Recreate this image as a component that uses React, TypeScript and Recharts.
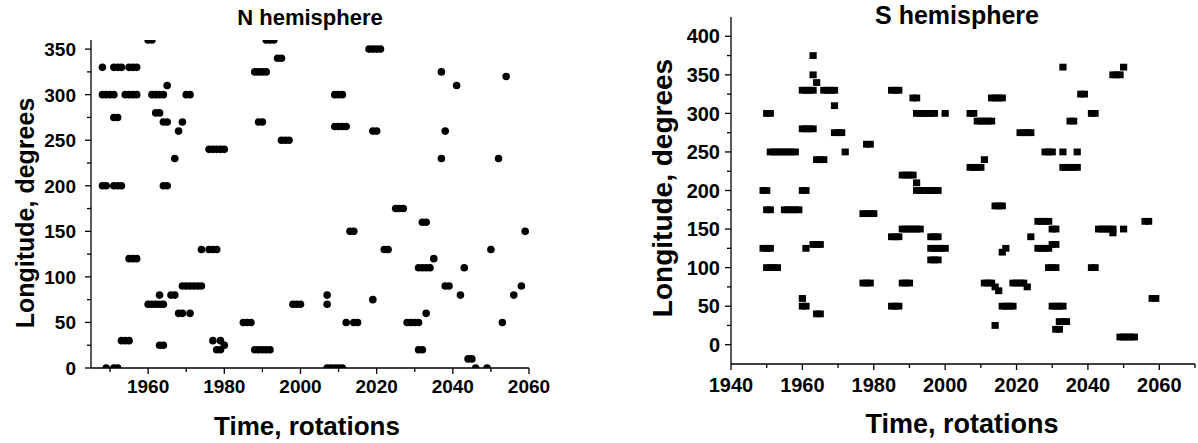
import { Scatter, ScatterChart, XAxis, YAxis } from 'recharts'

const FONT = '"Liberation Sans", Arial, Helvetica, sans-serif'

// N hemisphere, [rotation, longitude]
const nPoints1940s = [
  [1948, 330], [1948, 300], [1948, 200],
  [1949, 300], [1949, 200], [1949, 0],
]
const nPoints1950s = [
  [1950, 300],
  [1951, 300], [1951, 330], [1951, 275], [1951, 200], [1951, 0],
  [1952, 330], [1952, 275], [1952, 200], [1952, 0],
  [1953, 330], [1953, 200], [1953, 30],
  [1954, 300], [1954, 30],
  [1955, 330], [1955, 300], [1955, 120], [1955, 30],
  [1956, 330], [1956, 300], [1956, 120],
  [1957, 330], [1957, 300], [1957, 120],
]
const nPoints1960s = [
  [1960, 360], [1960, 70],
  [1961, 360], [1961, 300], [1961, 70],
  [1962, 300], [1962, 280], [1962, 70],
  [1963, 300], [1963, 280], [1963, 80], [1963, 70], [1963, 25],
  [1964, 300], [1964, 270], [1964, 200], [1964, 70], [1964, 25],
  [1965, 310], [1965, 270], [1965, 200],
  [1966, 80],
  [1967, 230], [1967, 80],
  [1968, 260], [1968, 60],
  [1969, 270], [1969, 90], [1969, 60],
]
const nPoints1970s = [
  [1970, 300], [1970, 90],
  [1971, 300], [1971, 90], [1971, 60],
  [1972, 90], [1973, 90],
  [1974, 130], [1974, 90],
  [1976, 240], [1976, 130],
  [1977, 240], [1977, 130], [1977, 30],
  [1978, 240], [1978, 130], [1978, 20],
  [1979, 240], [1979, 30], [1979, 20],
]
const nPoints1980s = [
  [1980, 240], [1980, 25],
  [1985, 50], [1986, 50], [1987, 50],
  [1988, 325], [1988, 20],
  [1989, 325], [1989, 270], [1989, 20],
]
const nPoints1990s = [
  [1990, 325], [1990, 270], [1990, 20],
  [1991, 325], [1991, 360], [1991, 20],
  [1992, 360], [1992, 20],
  [1993, 360],
  [1994, 340],
  [1995, 340], [1995, 250],
  [1996, 250], [1997, 250],
  [1998, 70], [1999, 70],
]
const nPoints2000s = [
  [2000, 70],
  [2007, 80], [2007, 70], [2007, 0],
  [2008, 0],
  [2009, 300], [2009, 265], [2009, 0],
  [2010, 300], [2010, 265], [2010, 0],
  [2011, 300], [2011, 265], [2011, 0],
  [2012, 265], [2012, 50],
  [2013, 150],
  [2014, 150], [2014, 50],
  [2015, 50],
  [2018, 350],
  [2019, 350], [2019, 260], [2019, 75],
]
const nPoints2020s = [
  [2020, 350], [2020, 260],
  [2021, 350],
  [2022, 130], [2023, 130],
  [2025, 175], [2026, 175], [2027, 175],
  [2028, 50], [2029, 50], [2030, 50],
  [2031, 110], [2031, 50], [2031, 20],
  [2032, 160], [2032, 110], [2032, 20],
  [2033, 160], [2033, 110], [2033, 60],
  [2034, 110],
  [2035, 120],
  [2037, 325], [2037, 230],
  [2038, 260], [2038, 90],
  [2039, 90],
]
const nPoints2040s = [
  [2041, 310], [2042, 80], [2043, 110],
  [2044, 10], [2045, 10], [2046, 0], [2049, 0],
  [2050, 130], [2052, 230], [2053, 50], [2054, 320],
  [2056, 80], [2058, 90], [2059, 150],
]

// S hemisphere, [rotation, longitude]
const sPoints1940s = [
  [1949, 200], [1950, 200],
  [1949, 125], [1950, 125], [1951, 125],
  [1950, 300], [1951, 300],
  [1950, 175], [1951, 175],
  [1950, 100], [1951, 100], [1952, 100], [1953, 100],
  [1951, 250], [1952, 250], [1953, 250], [1954, 250], [1955, 250], [1956, 250], [1957, 250], [1958, 250],
  [1955, 175], [1956, 175], [1957, 175], [1958, 175], [1959, 175],
]
const sPoints1960s = [
  [1960, 330], [1961, 330], [1962, 330], [1963, 330],
  [1960, 280], [1961, 280], [1962, 280], [1963, 280],
  [1960, 200], [1961, 200],
  [1960, 60], [1960, 50], [1961, 50],
  [1961, 125],
  [1963, 375], [1963, 350],
  [1963, 130], [1964, 130], [1965, 130],
  [1964, 340],
  [1964, 240], [1965, 240], [1966, 240],
  [1964, 40], [1965, 40],
  [1966, 330], [1967, 330], [1968, 330], [1969, 330],
  [1969, 310],
  [1969, 275], [1970, 275], [1971, 275],
  [1972, 250],
  [1977, 170], [1978, 170], [1979, 170], [1980, 170],
  [1977, 80], [1978, 80], [1979, 80],
  [1978, 260], [1979, 260],
]
const sPoints1980s = [
  [1985, 330], [1986, 330], [1987, 330],
  [1985, 140], [1986, 140], [1987, 140],
  [1985, 50], [1986, 50], [1987, 50],
  [1988, 220], [1989, 220], [1990, 220], [1991, 220],
  [1988, 150], [1989, 150], [1990, 150], [1991, 150], [1992, 150], [1993, 150],
  [1988, 80], [1989, 80], [1990, 80],
  [1991, 320], [1992, 320],
  [1992, 210],
  [1992, 300], [1993, 300], [1994, 300], [1995, 300], [1996, 300], [1997, 300],
  [1992, 200], [1993, 200], [1994, 200], [1995, 200], [1996, 200], [1997, 200], [1998, 200],
  [1996, 140], [1997, 140], [1998, 140],
  [1996, 110], [1997, 110], [1998, 110],
  [1996, 125], [1997, 125], [1998, 125], [1999, 125], [2000, 125],
  [2000, 300],
]
const sPoints2000s = [
  [2007, 300], [2008, 300],
  [2007, 230], [2008, 230], [2009, 230], [2010, 230],
  [2009, 290], [2010, 290], [2011, 290], [2012, 290], [2013, 290],
  [2011, 240],
  [2011, 80], [2012, 80], [2013, 80],
  [2013, 320], [2014, 320], [2015, 320], [2016, 320],
  [2014, 75], [2014, 25], [2015, 70],
  [2014, 180], [2015, 180], [2016, 180],
  [2016, 120], [2017, 125],
  [2016, 50], [2017, 50], [2018, 50], [2019, 50],
  [2019, 80], [2020, 80], [2021, 80], [2022, 80],
  [2021, 275], [2022, 275], [2023, 275], [2024, 275],
  [2023, 75], [2024, 140],
]
const sPoints2020s = [
  [2026, 160], [2027, 160], [2028, 160], [2029, 160],
  [2026, 125], [2027, 125], [2028, 125], [2029, 125],
  [2028, 250], [2029, 250], [2030, 250],
  [2029, 100], [2030, 100], [2031, 100],
  [2030, 150], [2031, 150],
  [2030, 130], [2031, 130],
  [2030, 50], [2031, 50], [2032, 50], [2033, 50],
  [2031, 20], [2032, 20],
  [2032, 30], [2033, 30], [2034, 30],
  [2033, 360], [2033, 250],
  [2033, 230], [2034, 230], [2035, 230], [2036, 230], [2037, 230],
  [2035, 290], [2036, 290],
  [2037, 250],
  [2038, 325], [2039, 325],
]
const sPoints2040s = [
  [2041, 300], [2042, 300],
  [2041, 100], [2042, 100],
  [2043, 150], [2044, 150], [2045, 150], [2046, 150], [2047, 150],
  [2047, 145],
  [2047, 350], [2048, 350], [2049, 350],
  [2049, 10], [2050, 10], [2051, 10], [2052, 10], [2053, 10],
  [2050, 360], [2050, 150],
  [2056, 160], [2057, 160],
  [2058, 60], [2059, 60],
]

const nXTicks = [1950, 1960, 1970, 1980, 1990, 2000, 2010, 2020, 2030, 2040, 2050, 2060]
const nYTicks = [0, 25, 50, 75, 100, 125, 150, 175, 200, 225, 250, 275, 300, 325, 350]
const sXTicks = [1940, 1950, 1960, 1970, 1980, 1990, 2000, 2010, 2020, 2030, 2040, 2050, 2060, 2070]
const sYTicks = [0, 25, 50, 75, 100, 125, 150, 175, 200, 225, 250, 275, 300, 325, 350, 375, 400]

const toRows = (pts: number[][]) => pts.map(([rot, lon]) => ({ rot, lon }))

const nData = toRows([
  ...nPoints1940s, ...nPoints1950s, ...nPoints1960s, ...nPoints1970s,
  ...nPoints1980s, ...nPoints1990s, ...nPoints2000s, ...nPoints2020s, ...nPoints2040s,
])
const sData = toRows([
  ...sPoints1940s, ...sPoints1960s, ...sPoints1980s, ...sPoints2000s, ...sPoints2020s, ...sPoints2040s,
])

const AXIS = { stroke: '#000', strokeWidth: 1.3 }
const tickText = { fontFamily: FONT, fontWeight: 700, fill: '#000' }

// minor ticks have no label and a shorter line
const xTick = (axisY: number, labelDy: number, size: number) => (p: any) => {
  const major = p.payload.value % 20 === 0
  return (
    <g>
      <line x1={p.x} x2={p.x} y1={axisY} y2={axisY + (major ? 6 : 4)} {...AXIS} />
      {major && (
        <text x={p.x} y={axisY + labelDy} textAnchor="middle" fontSize={size} {...tickText}>{p.payload.value}</text>
      )}
    </g>
  )
}

const yTick = (axisX: number, gap: number, size: number) => (p: any) => {
  const major = p.payload.value % 50 === 0
  return (
    <g>
      <line x1={axisX} x2={axisX - (major ? 6 : 4)} y1={p.y} y2={p.y} {...AXIS} />
      {major && (
        <text x={axisX - gap} y={p.y + size * 0.36} textAnchor="end" fontSize={size} {...tickText}>{p.payload.value}</text>
      )}
    </g>
  )
}

const Dot = (p: any) => <circle cx={p.cx} cy={p.cy} r={3.8} fill="#000" />
const Block = (p: any) => <rect x={p.cx - 3.6} y={p.cy - 3.4} width={7.2} height={6.8} fill="#000" />

const label = { fontFamily: FONT, fontWeight: 700, fill: '#000' }

export default function App() {
  return (
    <div style={{ position: 'absolute', left: 0, top: 0, width: 1198, height: 443, background: '#fff' }}>
      <div style={{ position: 'absolute', left: 0, top: 0 }}>
        <ScatterChart width={560} height={443} margin={{ top: 40, right: 31, bottom: 45, left: 0 }}>
          <XAxis type="number" dataKey="rot" domain={[1945, 2060]} ticks={nXTicks} interval={0}
            allowDataOverflow axisLine={AXIS} tickLine={false} tickSize={0} height={30} tick={xTick(368, 25, 19)} />
          <YAxis type="number" dataKey="lon" domain={[0, 360]} ticks={nYTicks} interval={0}
            allowDataOverflow axisLine={AXIS} tickLine={false} tickSize={0} width={91} tick={yTick(91, 15, 19)} />
          <Scatter data={nData} shape={Dot} isAnimationActive={false} />
        </ScatterChart>
      </div>
      <div style={{ position: 'absolute', left: 600, top: 0 }}>
        <ScatterChart width={598} height={443} margin={{ top: 17, right: 3, bottom: 49, left: 0 }}>
          <XAxis type="number" dataKey="rot" domain={[1940, 2070]} ticks={sXTicks} interval={0}
            allowDataOverflow axisLine={AXIS} tickLine={false} tickSize={0} height={30} tick={xTick(364, 28, 20)} />
          <YAxis type="number" dataKey="lon" domain={[-25, 425]} ticks={sYTicks} interval={0}
            allowDataOverflow axisLine={AXIS} tickLine={false} tickSize={0} width={131} tick={yTick(131, 11, 20)} />
          <Scatter data={sData} shape={Block} isAnimationActive={false} />
        </ScatterChart>
      </div>
      <svg width={1198} height={443} style={{ position: 'absolute', left: 0, top: 0, pointerEvents: 'none' }}>
        <text x={310} y={25} textAnchor="middle" fontSize={22} {...label}>N hemisphere</text>
        <text x={957} y={24} textAnchor="middle" fontSize={25} {...label}>S hemisphere</text>
        <text x={307} y={435} textAnchor="middle" fontSize={26} {...label}>Time, rotations</text>
        <text x={962} y={433} textAnchor="middle" fontSize={27} {...label}>Time, rotations</text>
        <text transform="translate(34 213) rotate(-90)" textAnchor="middle" fontSize={25} {...label}>Longitude, degrees</text>
        <text transform="translate(672 188) rotate(-90)" textAnchor="middle" fontSize={28} {...label}>Longitude, degrees</text>
      </svg>
    </div>
  )
}
